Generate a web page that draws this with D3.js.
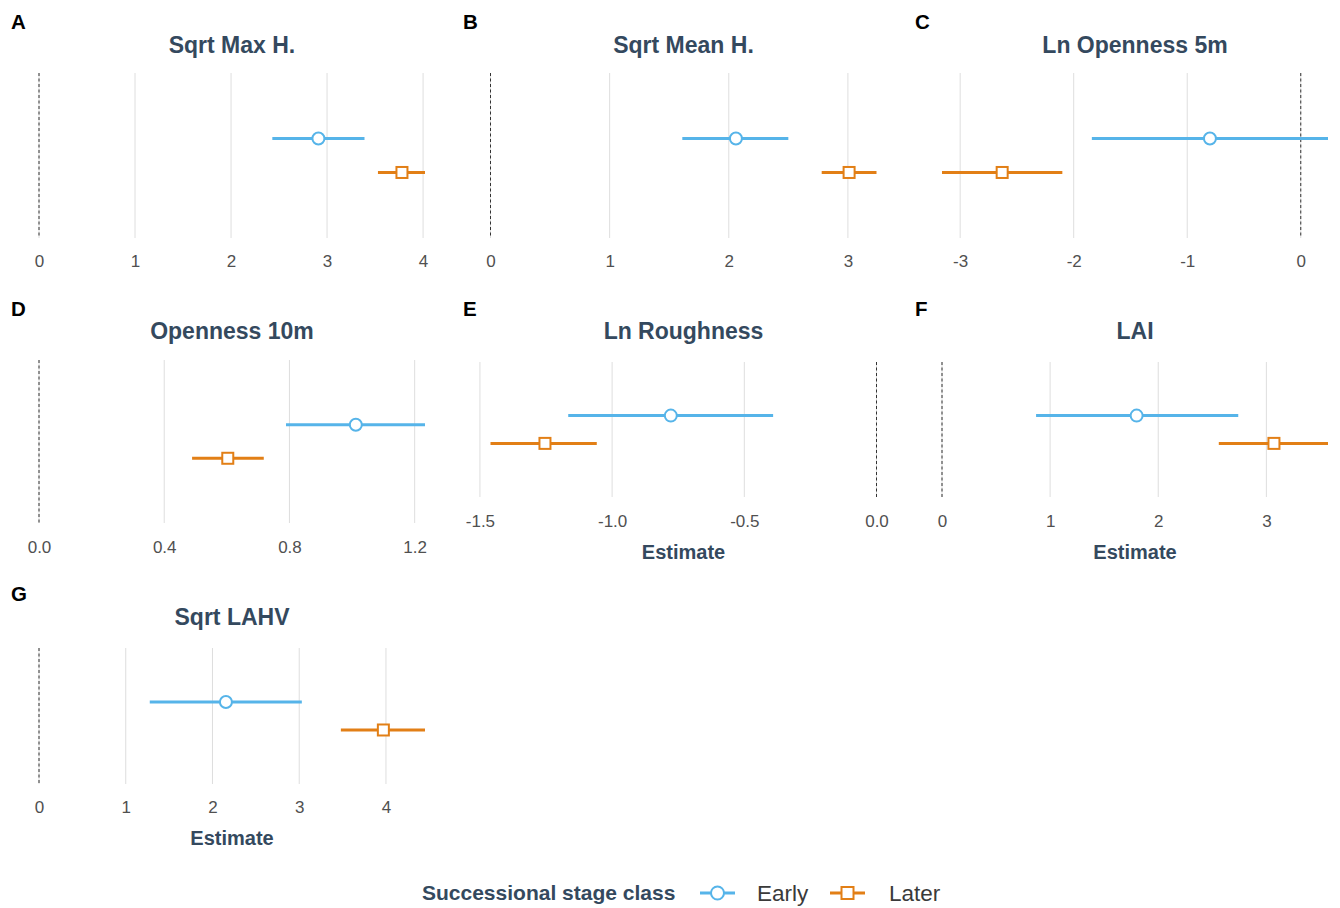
<!DOCTYPE html>
<html>
<head>
<meta charset="utf-8">
<script src="https://cdn.jsdelivr.net/npm/d3@7"></script>
<style>
  html, body { margin: 0; padding: 0; background: #ffffff; }
  svg { display: block; font-family: "Liberation Sans", Arial, Helvetica, sans-serif; }
</style>
</head>
<body>
<svg id="chart" width="1340" height="908"></svg>
<script>
// ---- Data ----
const panelLetters = ["A", "B", "C", "D", "E", "F", "G"];
const panelTitles = ["Sqrt Max H.", "Sqrt Mean H.", "Ln Openness 5m", "Openness 10m", "Ln Roughness", "LAI", "Sqrt LAHV"];
const groups = ["Early", "Later"];
const earlyEst = [2.91, 2.06, -0.80, 1.012, -0.778, 1.80, 2.155];
const earlyLo  = [2.43, 1.61, -1.84, 0.789, -1.166, 0.87, 1.277];
const earlyHi  = [3.39, 2.50,  0.24, 1.233, -0.391, 2.74, 3.03];
const laterEst = [3.78, 3.01, -2.63, 0.603, -1.254, 3.07, 3.97];
const laterLo  = [3.53, 2.78, -3.16, 0.489, -1.46, 2.56, 3.48];
const laterHi  = [4.02, 3.24, -2.10, 0.718, -1.058, 3.57, 4.45];
const tickValues = [
  [0, 1, 2, 3, 4],
  [0, 1, 2, 3],
  [-3, -2, -1, 0],
  [0.0, 0.4, 0.8, 1.2],
  [-1.5, -1.0, -0.5, 0.0],
  [0, 1, 2, 3],
  [0, 1, 2, 3, 4]
];
const tickFormats = [".0f", ".0f", ".0f", ".1f", ".1f", ".0f", ".0f"];
const showXTitle = [false, false, false, false, true, true, true];
const xTitle = "Estimate";
const legendTitle = "Successional stage class";

// ---- Layout ----
const colLeft = [39, 490.5, 942];
const panelW = 386;
const layout = [
  { col: 0, top: 73,  bottom: 238, tickY: 268, titleY: 53,  letterY: 29 },
  { col: 1, top: 73,  bottom: 238, tickY: 268, titleY: 53,  letterY: 29 },
  { col: 2, top: 73,  bottom: 238, tickY: 268, titleY: 53,  letterY: 29 },
  { col: 0, top: 360, bottom: 523, tickY: 554, titleY: 339, letterY: 316 },
  { col: 1, top: 362, bottom: 497, tickY: 528, titleY: 339, letterY: 316, xtY: 559 },
  { col: 2, top: 362, bottom: 497, tickY: 528, titleY: 339, letterY: 316, xtY: 559 },
  { col: 0, top: 648, bottom: 784, tickY: 814, titleY: 625, letterY: 601, xtY: 845 }
];
const letterX = [11, 463, 915];

const colEarly = "#56B4E9";
const colLater = "#E27F16";
const titleCol = "#34495E";
const tickCol = "#505050";

const svg = d3.select("#chart");

panelTitles.forEach((title, i) => {
  const L = layout[i];
  const left = colLeft[L.col];
  const lows = [earlyLo[i], laterLo[i], 0];
  const highs = [earlyHi[i], laterHi[i], 0];
  const x = d3.scaleLinear()
    .domain([d3.min(lows), d3.max(highs)])
    .range([left, left + panelW]);
  const y = d3.scalePoint()
    .domain(groups)
    .range([L.top, L.bottom])
    .padding(1.93);

  const g = svg.append("g");

  // gridlines
  g.selectAll("line.grid")
    .data(tickValues[i])
    .enter().append("line")
    .attr("class", "grid")
    .attr("x1", d => x(d)).attr("x2", d => x(d))
    .attr("y1", L.top).attr("y2", L.bottom)
    .attr("stroke", "#DEDEDE").attr("stroke-width", 1);

  // zero reference line
  g.append("line")
    .attr("x1", x(0)).attr("x2", x(0))
    .attr("y1", L.top).attr("y2", L.bottom)
    .attr("stroke", "#333333").attr("stroke-width", 1)
    .attr("stroke-dasharray", "3,2.5");

  // axis labels
  const fmt = d3.format(tickFormats[i]);
  const axis = d3.axisBottom(x)
    .tickValues(tickValues[i])
    .tickFormat(d => fmt(d).replace("\u2212", "-"))
    .tickSize(0)
    .tickPadding(0);
  const ag = g.append("g")
    .attr("transform", `translate(0,${L.tickY - 13})`)
    .call(axis);
  ag.attr("font-size", null).attr("font-family", null);
  ag.select(".domain").remove();
  ag.selectAll("text")
    .attr("fill", tickCol)
    .style("font-size", "17px")
    .style("font-family", "Liberation Sans, Arial, sans-serif");

  // series
  const series = [
    { key: "Early", est: earlyEst[i], lo: earlyLo[i], hi: earlyHi[i], color: colEarly, shape: "circle" },
    { key: "Later", est: laterEst[i], lo: laterLo[i], hi: laterHi[i], color: colLater, shape: "square" }
  ];
  series.forEach(s => {
    const yy = y(s.key);
    g.append("line")
      .attr("x1", x(s.lo)).attr("x2", x(s.hi))
      .attr("y1", yy).attr("y2", yy)
      .attr("stroke", s.color).attr("stroke-width", 3);
    if (s.shape === "circle") {
      g.append("circle")
        .attr("cx", x(s.est)).attr("cy", yy).attr("r", 6)
        .attr("fill", "#ffffff").attr("stroke", s.color).attr("stroke-width", 2);
    } else {
      g.append("rect")
        .attr("x", x(s.est) - 5.5).attr("y", yy - 5.5)
        .attr("width", 11).attr("height", 11)
        .attr("fill", "#ffffff").attr("stroke", s.color).attr("stroke-width", 2);
    }
  });

  // title
  g.append("text")
    .attr("x", left + panelW / 2).attr("y", L.titleY)
    .attr("text-anchor", "middle")
    .attr("font-size", 23).attr("font-weight", "bold")
    .attr("fill", titleCol)
    .text(title);

  // panel letter
  g.append("text")
    .attr("x", letterX[L.col]).attr("y", L.letterY)
    .attr("font-size", 20.5).attr("font-weight", "bold")
    .attr("fill", "#000000")
    .text(panelLetters[i]);

  // x title
  if (showXTitle[i]) {
    g.append("text")
      .attr("x", left + panelW / 2).attr("y", L.xtY)
      .attr("text-anchor", "middle")
      .attr("font-size", 20).attr("font-weight", "bold")
      .attr("fill", titleCol)
      .text(xTitle);
  }
});

// ---- Legend ----
const lg = svg.append("g");
const legY = 893;
lg.append("text")
  .attr("x", 422).attr("y", legY + 7)
  .attr("font-size", 21).attr("font-weight", "bold")
  .attr("fill", titleCol)
  .text(legendTitle);

const legItems = [
  { key: groups[0], color: colEarly, shape: "circle", gx: 700, tx: 757 },
  { key: groups[1], color: colLater, shape: "square", gx: 830, tx: 889 }
];
legItems.forEach(it => {
  lg.append("line")
    .attr("x1", it.gx).attr("x2", it.gx + 35)
    .attr("y1", legY).attr("y2", legY)
    .attr("stroke", it.color).attr("stroke-width", 3);
  const cx = it.gx + 17.5;
  if (it.shape === "circle") {
    lg.append("circle").attr("cx", cx).attr("cy", legY).attr("r", 6.5)
      .attr("fill", "#fff").attr("stroke", it.color).attr("stroke-width", 2);
  } else {
    lg.append("rect").attr("x", cx - 6).attr("y", legY - 6)
      .attr("width", 12).attr("height", 12)
      .attr("fill", "#fff").attr("stroke", it.color).attr("stroke-width", 2);
  }
  lg.append("text")
    .attr("x", it.tx).attr("y", legY + 8)
    .attr("font-size", 22.5)
    .attr("fill", "#3A3A3A")
    .text(it.key);
});
</script>
</body>
</html>
